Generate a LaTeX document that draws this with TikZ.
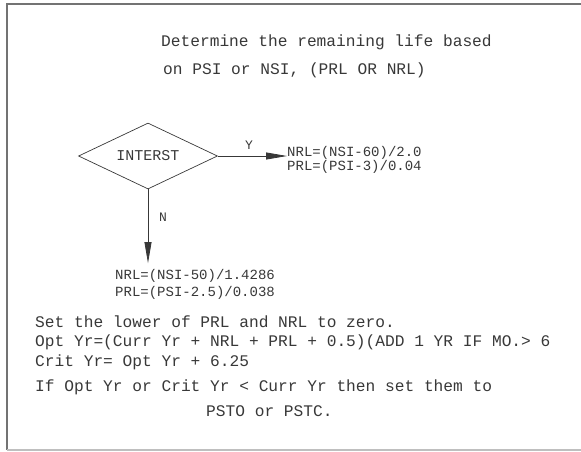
\documentclass[tikz,border=0pt]{standalone}
\usepackage{fontspec}
\setmonofont{Liberation Mono}
\usetikzlibrary{positioning,shapes.geometric,arrows.meta}
\definecolor{cadink}{gray}{0.22}
\tikzset{
  cadtext/.style={font=\ttfamily\fontsize{16.2}{19.5}\selectfont, text=cadink, inner sep=0pt, anchor=base west, align=left},
  formula/.style={font=\ttfamily\fontsize{14}{13}\selectfont, text=cadink, inner sep=0pt, anchor=base west, align=left},
  decision/.style={diamond, aspect=2, draw=cadink, line width=0.7pt, minimum width=139pt, minimum height=66pt, inner sep=0pt, font=\ttfamily\fontsize{15}{15}\selectfont, text=cadink},
  flow/.style={draw=cadink, line width=0.8pt, -{Triangle[length=21pt,width=7pt]}},
  branch/.style={font=\ttfamily\fontsize{13}{13}\selectfont, text=cadink, inner sep=0pt}
}
\begin{document}
\begin{tikzpicture}[x=1pt,y=-1pt]
    \useasboundingbox (0,0) rectangle (581,451);
    % sheet border
    \draw[black!55, line width=1.6pt] (583,4) -- (7,4) -- (7,450);
    \draw[black!25, line width=1.2pt] (7,450) -- (583,450);

    % heading
    \node[cadtext] (title) at (161,46) {Determine the remaining life based};
    \node[cadtext] (subtitle) at (163,74.5) {on PSI or NSI, (PRL OR NRL)};

    % decision and its two branches (base = last line)
    \node[decision] (interst) at (148,156) {INTERST};
    \node[formula] (yes) at (287,170.5) {NRL=(NSI-60)/2.0\\PRL=(PSI-3)/0.04};
    \node[formula] (no) at (115,296.5) {NRL=(NSI-50)/1.4286\\[3pt]PRL=(PSI-2.5)/0.038};
    \draw[flow] (interst.east) -- (interst.east -| yes.west);
    \draw[flow, shorten >=6pt] (interst.south) -- (interst.south |- no.north);
    \node[branch] (ylabel) at (249,145) {Y};
    \node[branch] (nlabel) at (163,217) {N};

    % rules below
    \node[cadtext] (rules) at (35,366) {Set the lower of PRL and NRL to zero.\\Opt Yr=(Curr Yr + NRL + PRL + 0.5)(ADD 1 YR IF MO.> 6\\Crit Yr= Opt Yr + 6.25};
    \node[cadtext] (check) at (35,391) {If Opt Yr or Crit Yr < Curr Yr then set them to};
    \node[cadtext] (pst) at (206,416) {PSTO or PSTC.};
\end{tikzpicture}
\end{document}
